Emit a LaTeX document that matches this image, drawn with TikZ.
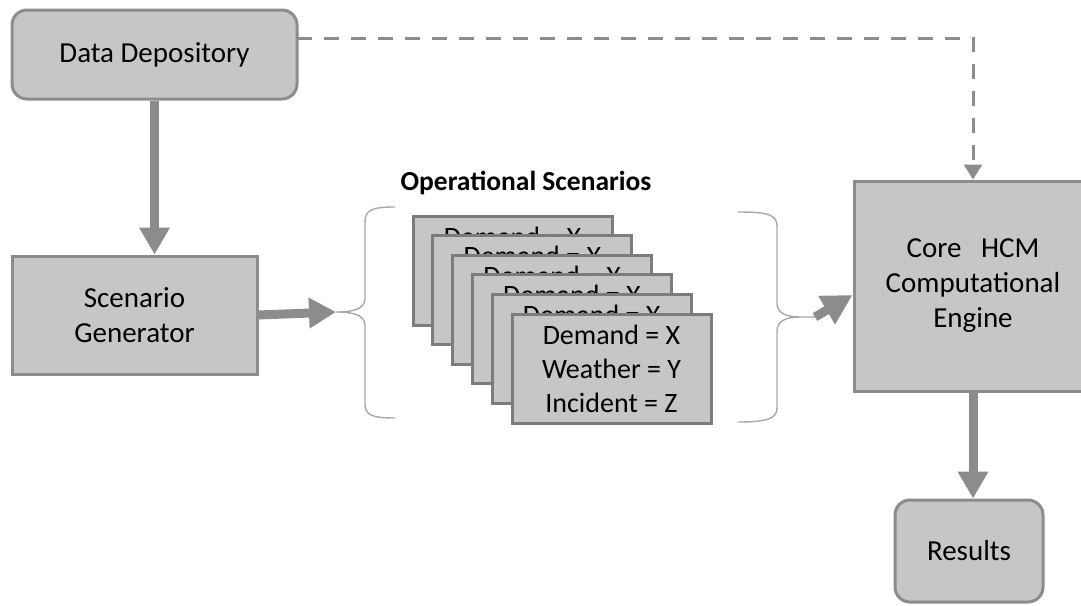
\documentclass[tikz,border=0pt]{standalone}
\usepackage{fontspec}
\setmainfont{Carlito}
\usetikzlibrary{arrows.meta}
\definecolor{boxfill}{HTML}{C6C6C6}
\definecolor{boxline}{HTML}{8C8C8C}
\definecolor{cardline}{HTML}{7C7C7C}
\definecolor{bracegray}{HTML}{A8A8A8}
\tikzset{
  block/.style={draw=boxline,fill=boxfill,line width=3pt,align=center,font=\fontsize{29}{35}\selectfont},
  roundblock/.style={block,rounded corners=15pt},
  card/.style={draw=cardline,fill=boxfill,line width=3pt,align=center,minimum width=199pt,minimum height=109pt,inner sep=0pt,font=\fontsize{28}{34}\selectfont},
  bigarrow/.style={draw=boxline,line width=9pt,-{Triangle[length=27pt,width=29pt]}},
  dashline/.style={draw=boxline,line width=3pt,dash pattern=on 15pt off 12pt,-{Triangle[length=15pt,width=18pt]}},
  bracket/.style={draw=bracegray,line width=1.4pt}
}

\begin{document}
\begin{tikzpicture}[x=1pt,y=-1pt]
\useasboundingbox (0,0) rectangle (1081,605);
\node[roundblock,minimum width=285pt,minimum height=89pt] (dd) at (154.5,54.5) {Data Depository};
\node[block,minimum width=245pt,minimum height=118pt] (sg) at (134.5,315) {Scenario\\Generator};
\node[block,minimum width=238pt,minimum height=210pt,text depth=6pt] (core) at (973,286) {Core~~~HCM\\Computational\\Engine};
\node[roundblock,minimum width=148pt,minimum height=102pt] (res) at (969,551) {Results};
\node[font=\fontsize{27.5}{32}\selectfont\bfseries] (ops) at (526,183) {Operational Scenarios};
% stack of scenario cards, back to front
\node[card] (card1) at (512.5,270.5) {Demand = X\\Weather = Y\\Incident = Z};
\node[card] (card2) at (532.3,290.1) {Demand = X\\Weather = Y\\Incident = Z};
\node[card] (card3) at (552.1,309.7) {Demand = X\\Weather = Y\\Incident = Z};
\node[card] (card4) at (571.9,329.3) {Demand = X\\Weather = Y\\Incident = Z};
\node[card] (card5) at (591.7,348.9) {Demand = X\\Weather = Y\\Incident = Z};
\node[card] (card6) at (611.5,368.5) {Demand = X\\Weather = Y\\Incident = Z};
% braces round the stack
\coordinate (ltip) at (336,312);
\coordinate (rtip) at (815,317);
\draw[bracket] (395,207) .. controls (372,207) and (365,210) .. (365,222) -- (365,298)
  .. controls (365,308) and (356,312) .. (ltip)
  .. controls (356,312) and (365,316) .. (365,326) -- (365,404)
  .. controls (365,415) and (372,418) .. (395,418);
\draw[bracket] (738,212) .. controls (766,212) and (777,214) .. (777,226) -- (777,303)
  .. controls (777,313) and (786,317) .. (800,317) -- (rtip)
  (800,317) .. controls (786,317) and (777,321) .. (777,331) -- (777,408)
  .. controls (777,419) and (766,422) .. (738,422);
\coordinate (dtap) at (297,38);
\draw[bigarrow] (dd.south) -- (dd.south |- sg.north);
\draw[bigarrow] (sg.east) -- (ltip);
\draw[bigarrow,-{Triangle[length=30pt,width=31pt]}] (rtip) -- ([yshift=-9pt]core.west);
\draw[bigarrow] (core.south) -- (core.south |- res.north);
\draw[dashline] (dtap) -| (core.north);
\end{tikzpicture}
\end{document}
